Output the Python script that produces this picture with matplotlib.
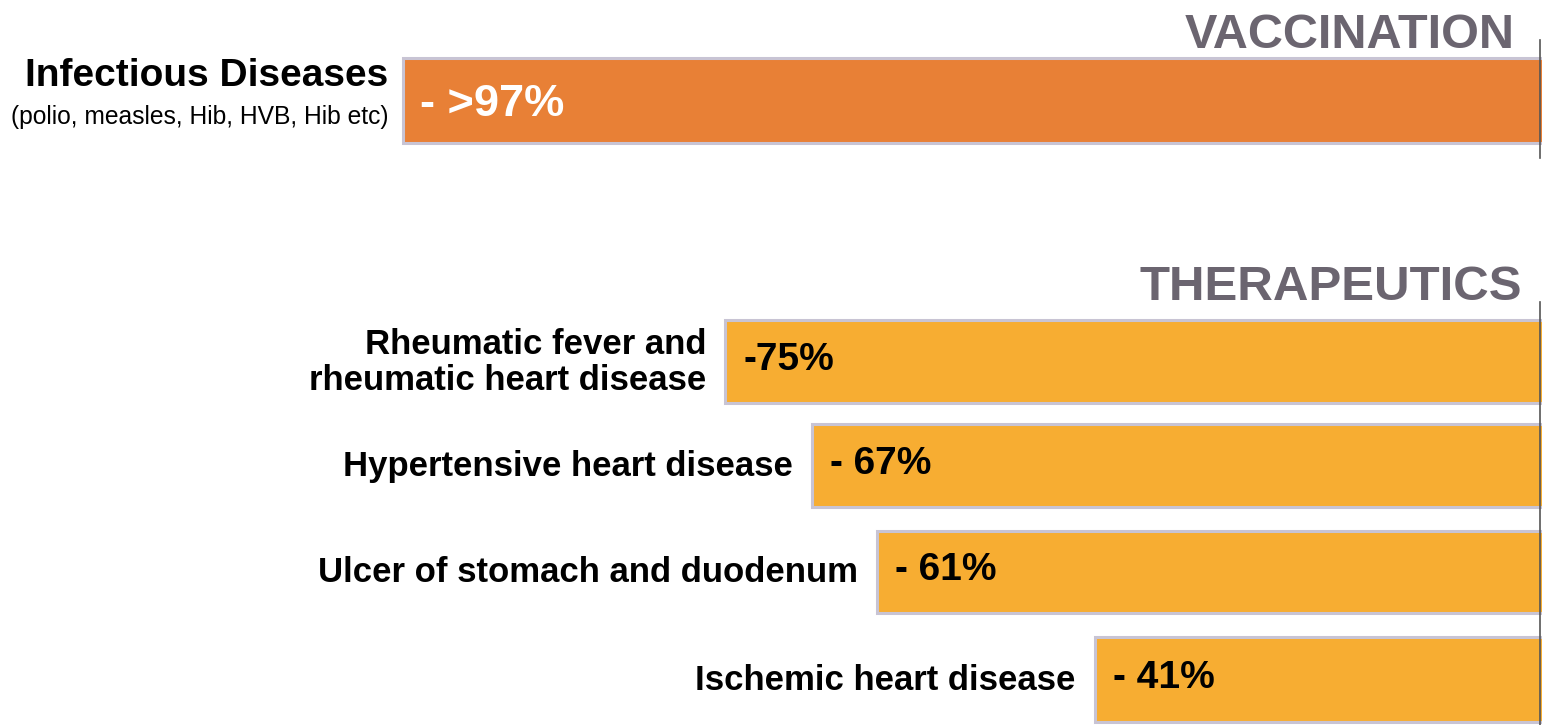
"""
Reduction in deaths: vaccination vs therapeutics, horizontal bars growing leftwards.
"""

import matplotlib.pyplot as plt

plt.rcParams["font.family"] = ["Liberation Sans", "DejaVu Sans"]

# data (bar extent in % of the shared scale)
categories = [
    "Infectious Diseases",
    "Rheumatic fever and\nrheumatic heart disease",
    "Hypertensive heart disease",
    "Ulcer of stomach and duodenum",
    "Ischemic heart disease",
]
bar_extent = [104.6, 75, 67, 61, 41]
value_labels = ["- >97%", "-75%", "- 67%", "- 61%", "- 41%"]
subtitle = "(polio, measles, Hib, HVB, Hib etc)"
section_titles = ["VACCINATION", "THERAPEUTICS"]

# layout, in pixel rows of a 1542x725 canvas
rows = [100.5, 361.5, 465.5, 572, 679.5]
heights = [85, 83, 83, 82, 85]
colors = ["#E88036", "#F7AD32", "#F7AD32", "#F7AD32", "#F7AD32"]

fig = plt.figure(figsize=(15.42, 7.25), dpi=100)
ax = fig.add_axes([0, 0, 1, 1])
ax.set_xlim(141.7, -0.13)
ax.set_ylim(725, 0)
ax.axis("off")

ax.barh(
    rows,
    [e + 1 for e in bar_extent],
    left=-1,
    height=heights,
    color=colors,
    edgecolor="#C8C4D4",
    linewidth=2.2,
)

# axis stubs at the zero line
ax.plot([0.05, 0.05], [40, 158], color="#555555", linewidth=1.2)
ax.plot([0.05, 0.05], [302, 725], color="#555555", linewidth=1.2)

# section titles
ax.text(2.35, 48, section_titles[0], ha="right", va="baseline",
        fontsize=35, fontweight="bold", color="#6B6570")
ax.text(1.7, 300, section_titles[1], ha="right", va="baseline",
        fontsize=35.5, fontweight="bold", color="#6B6570")

# first (vaccination) row
ax.text(bar_extent[0] + 1.4, 86, categories[0], ha="right", va="baseline",
        fontsize=28, fontweight="bold", color="black")
ax.text(bar_extent[0] + 1.4, 124, subtitle, ha="right", va="baseline",
        fontsize=17.7, color="black")
ax.text(bar_extent[0] - 1.55, rows[0] + 15, value_labels[0], ha="left",
        va="baseline", fontsize=32.5, fontweight="bold", color="white")

# therapeutics rows
for i in range(1, len(categories)):
    lines = categories[i].split("\n")
    n = len(lines)
    for k, line in enumerate(lines):
        ax.text(bar_extent[i] + 1.75, rows[i] + 10 + (k - (n - 1) / 2) * 36,
                line, ha="right", va="baseline", fontsize=25,
                fontweight="bold", color="black")
    ax.text(bar_extent[i] - 1.65, rows[i] + 8, value_labels[i], ha="left",
            va="baseline", fontsize=28, fontweight="bold", color="black")

fig.savefig("out.png", dpi=100)
